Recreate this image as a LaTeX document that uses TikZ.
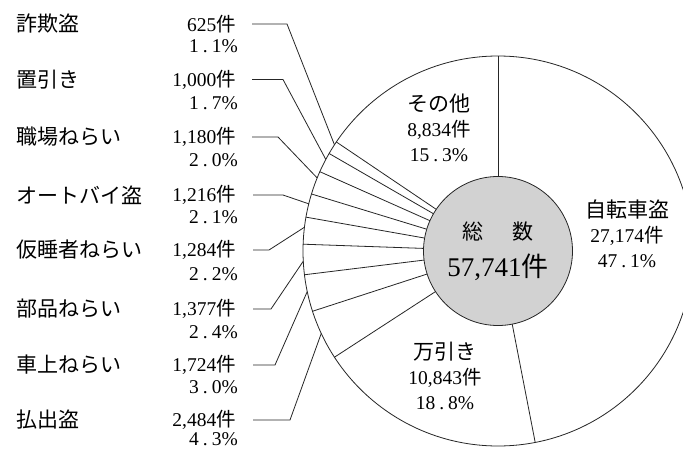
\documentclass[tikz,border=0pt]{standalone}
\usepackage{fontspec}
\setmainfont{Liberation Serif}
\newfontfamily\cjk{Noto Sans CJK JP}
\newcommand\ken{{\cjk 件}}
\newcommand\pdot{\kern4pt.\kern4pt}
\begin{document}
\begin{tikzpicture}[x=1pt,y=1pt,
  ln/.style={draw=black!85, line width=0.8pt},
  cat/.style={anchor=west, inner sep=0pt, font=\fontsize{21}{25}\selectfont\cjk},
  num/.style={anchor=east, inner sep=0pt, font=\fontsize{19.5}{25}\selectfont},
  slab/.style={align=center, inner sep=0pt, font=\fontsize{19.5}{25}\selectfont},
  jpl/.style={font=\fontsize{21}{25}\selectfont\cjk}]
\useasboundingbox (0,0) rectangle (683,451);
\fill[white] (0,0) rectangle (683,451);
% centre and outer circle
\node[circle, ln, fill=gray!35, minimum size=149pt, inner sep=0pt, outer sep=0pt,
      align=center, font=\fontsize{21}{37}\selectfont] (total) at (498,200)
      {{\cjk 総\hspace{1.4em}数}\\{\fontsize{27}{37}\selectfont 57,741\cjk 件}};
\node[circle, ln, minimum size=390pt, inner sep=0pt, outer sep=0pt] (pie) at (498,200) {};
\foreach \a in {90,-79.56,-147.24,-162.72,-173.52,-182.16,-190.08,-197.64,-204.84,-210.96,-214.92}
  \draw[ln] (total.\a) -- (pie.\a);
% labels inside the pie
\node[slab] (lother) at (439,323) {{\fontsize{21}{25}\selectfont\cjk その他}\\8,834\ken\\15\pdot3\%};
\node[slab] (lbike) at (627,217) {{\fontsize{21}{25}\selectfont\cjk 自転車盗}\\27,174\ken\\47\pdot1\%};
\node[slab] (lshop) at (445,75) {{\fontsize{21}{25}\selectfont\cjk 万引き}\\10,843\ken\\18\pdot8\%};
% left labels
\node[cat] (c1) at (16,427) {詐欺盗};
\node[num] (n1) at (236,427) {625\ken};
\node[num] (p1) at (238,405) {1\pdot1\%};
\node[cat] (c2) at (16,371.5) {置引き};
\node[num] (n2) at (236,371.5) {1,000\ken};
\node[num] (p2) at (238,348) {1\pdot7\%};
\node[cat] (c3) at (16,314) {職場ねらい};
\node[num] (n3) at (236,314) {1,180\ken};
\node[num] (p3) at (238,291) {2\pdot0\%};
\node[cat] (c4) at (16,256) {オートバイ盗};
\node[num] (n4) at (236,256) {1,216\ken};
\node[num] (p4) at (238,233.5) {2\pdot1\%};
\node[cat] (c5) at (16,201) {仮睡者ねらい};
\node[num] (n5) at (236,201) {1,284\ken};
\node[num] (p5) at (238,177) {2\pdot2\%};
\node[cat] (c6) at (16,142) {部品ねらい};
\node[num] (n6) at (236,142) {1,377\ken};
\node[num] (p6) at (238,118.5) {2\pdot4\%};
\node[cat] (c7) at (16,86) {車上ねらい};
\node[num] (n7) at (236,86) {1,724\ken};
\node[num] (p7) at (238,63.5) {3\pdot0\%};
\node[cat] (c8) at (16,31) {払出盗};
\node[num] (n8) at (236,31) {2,484\ken};
\node[num] (p8) at (238,12) {4\pdot3\%};
% leaders
\draw[ln] ([xshift=16pt]n1.east) -- ++(35,0) -- (pie.147.06);
\draw[ln] ([xshift=16pt]n2.east) -- ++(31,0) -- (pie.152.1);
\draw[ln] ([xshift=16pt]n3.east) -- ++(26,0) -- (pie.158.76);
\draw[ln] ([xshift=17pt]n4.east) -- ++(30,0) -- (pie.166.14);
\draw[ln] ([xshift=17pt]n5.east) -- ++(16,0) -- (pie.173.88);
\draw[ln] ([xshift=17pt]n6.east) -- ++(18,0) -- (pie.-177.84);
\draw[ln] ([xshift=17pt]n7.east) -- ++(22,0) -- (pie.-168.12);
\draw[ln] ([xshift=17pt]n8.east) -- ++(37,0) -- (pie.-155);
\end{tikzpicture}
\end{document}
